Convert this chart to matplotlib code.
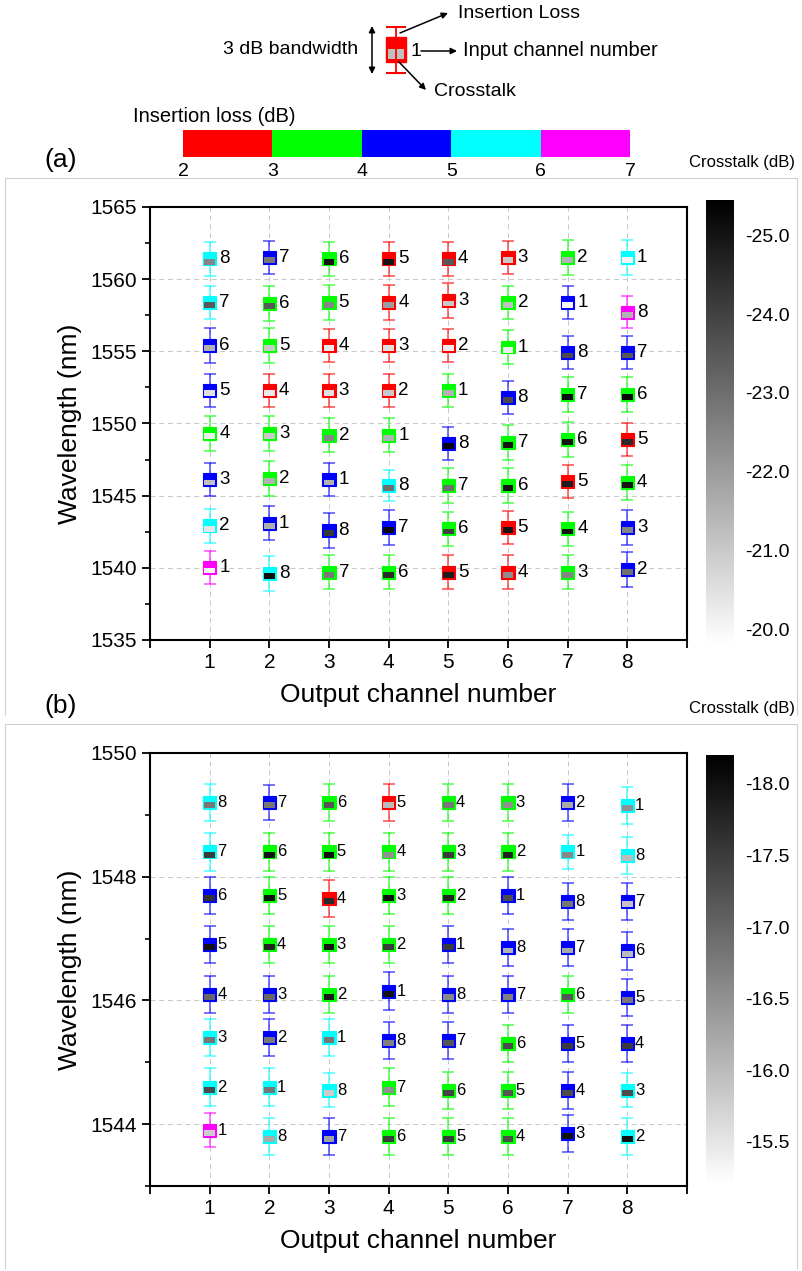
import matplotlib.pyplot as plt
from matplotlib import colors as mcolors
from matplotlib.cm import ScalarMappable
from matplotlib.lines import Line2D
from matplotlib.ticker import MultipleLocator, FormatStrFormatter

plt.rcParams['font.family'] = ['Liberation Sans', 'DejaVu Sans']
plt.rcParams['axes.unicode_minus'] = False

# ---- data: one list per output channel (column), rows listed top -> bottom ----
out_channels = [1, 2, 3, 4, 5, 6, 7, 8]

# panel (a)
in_a = [[8, 7, 6, 5, 4, 3, 2, 1], [7, 6, 5, 4, 3, 2, 1, 8], [6, 5, 4, 3, 2, 1, 8, 7],
        [5, 4, 3, 2, 1, 8, 7, 6], [4, 3, 2, 1, 8, 7, 6, 5], [3, 2, 1, 8, 7, 6, 5, 4],
        [2, 1, 8, 7, 6, 5, 4, 3], [1, 8, 7, 6, 5, 4, 3, 2]]
wl_a = [[1561.4, 1558.4, 1555.4, 1552.3, 1549.3, 1546.1, 1542.9, 1540.0],
        [1561.5, 1558.3, 1555.4, 1552.3, 1549.3, 1546.2, 1543.1, 1539.6],
        [1561.4, 1558.4, 1555.4, 1552.3, 1549.2, 1546.1, 1542.6, 1539.7],
        [1561.4, 1558.4, 1555.4, 1552.3, 1549.2, 1545.7, 1542.8, 1539.7],
        [1561.4, 1558.5, 1555.4, 1552.3, 1548.6, 1545.7, 1542.7, 1539.7],
        [1561.5, 1558.4, 1555.3, 1551.8, 1548.7, 1545.7, 1542.8, 1539.7],
        [1561.5, 1558.4, 1554.9, 1552.0, 1548.9, 1546.0, 1542.7, 1539.7],
        [1561.5, 1557.7, 1554.9, 1552.0, 1548.9, 1545.9, 1542.8, 1539.9]]
il_a = [[5.5, 5.5, 4.5, 4.5, 3.5, 4.5, 5.5, 6.5],
        [4.5, 3.5, 3.5, 2.5, 3.5, 3.5, 4.5, 5.5],
        [3.5, 3.5, 2.5, 2.5, 3.5, 4.5, 4.5, 3.5],
        [2.5, 2.5, 2.5, 2.5, 3.5, 5.5, 4.5, 3.5],
        [2.5, 2.5, 2.5, 3.5, 4.5, 3.5, 3.5, 2.5],
        [2.5, 3.5, 3.5, 4.5, 3.5, 3.5, 2.5, 2.5],
        [3.5, 4.5, 4.5, 3.5, 3.5, 2.5, 3.5, 3.5],
        [5.5, 6.5, 4.5, 3.5, 2.5, 3.5, 4.5, 4.5]]
xt_a = [[-22.5, -23.5, -21.5, -20.5, -20.2, -21.2, -20.4, -20.0],
        [-22.8, -23.5, -21.0, -20.3, -21.0, -21.5, -21.6, -25.2],
        [-25.0, -22.5, -20.3, -20.5, -22.5, -21.5, -24.2, -22.8],
        [-25.0, -22.0, -20.5, -21.0, -21.5, -23.0, -25.2, -24.5],
        [-23.5, -21.0, -20.2, -21.5, -25.3, -23.0, -24.0, -24.8],
        [-21.0, -21.2, -20.2, -23.8, -25.0, -25.0, -25.0, -22.3],
        [-21.5, -20.0, -23.8, -25.2, -25.0, -24.8, -25.0, -22.5],
        [-20.1, -21.5, -23.5, -25.3, -24.5, -25.0, -22.5, -23.0]]
bw_a = [[2.4, 2.3, 2.4, 2.3, 2.4, 2.3, 2.4, 2.3],
        [2.3, 2.4, 2.4, 2.3, 2.4, 2.4, 2.3, 2.4],
        [2.4, 2.4, 2.3, 2.3, 2.4, 2.3, 2.4, 2.4],
        [2.4, 2.4, 2.3, 2.3, 2.4, 2.2, 2.4, 2.4],
        [2.4, 2.4, 2.3, 2.3, 2.3, 2.4, 2.4, 2.4],
        [2.3, 2.3, 2.4, 2.3, 2.4, 2.4, 2.3, 2.4],
        [2.4, 2.3, 2.3, 2.4, 2.4, 2.3, 2.4, 2.4],
        [2.4, 2.2, 2.3, 2.4, 2.3, 2.4, 2.4, 2.4]]

# panel (b)
in_b = in_a
wl_b = [[1549.2, 1548.4, 1547.7, 1546.9, 1546.1, 1545.4, 1544.6, 1543.9],
        [1549.2, 1548.4, 1547.7, 1546.9, 1546.1, 1545.4, 1544.6, 1543.8],
        [1549.2, 1548.4, 1547.65, 1546.9, 1546.1, 1545.4, 1544.55, 1543.8],
        [1549.2, 1548.4, 1547.7, 1546.9, 1546.15, 1545.35, 1544.6, 1543.8],
        [1549.2, 1548.4, 1547.7, 1546.9, 1546.1, 1545.35, 1544.55, 1543.8],
        [1549.2, 1548.4, 1547.7, 1546.85, 1546.1, 1545.3, 1544.55, 1543.8],
        [1549.2, 1548.4, 1547.6, 1546.85, 1546.1, 1545.3, 1544.55, 1543.85],
        [1549.15, 1548.35, 1547.6, 1546.8, 1546.05, 1545.3, 1544.55, 1543.8]]
il_b = [[5.5, 5.5, 4.5, 4.5, 4.5, 5.5, 5.5, 6.5],
        [4.5, 3.5, 3.5, 3.5, 4.5, 4.5, 5.5, 5.5],
        [3.5, 3.5, 2.5, 3.5, 3.5, 5.5, 5.5, 4.5],
        [2.5, 3.5, 3.5, 3.5, 4.5, 4.5, 3.5, 3.5],
        [3.5, 3.5, 3.5, 4.5, 4.5, 4.5, 3.5, 3.5],
        [3.5, 3.5, 4.5, 4.5, 4.5, 3.5, 3.5, 3.5],
        [4.5, 5.5, 4.5, 4.5, 3.5, 4.5, 4.5, 4.5],
        [5.5, 5.5, 4.5, 4.5, 4.5, 4.5, 5.5, 5.5]]
xt_b = [[-16.8, -17.5, -17.6, -18.0, -17.0, -16.8, -17.3, -15.8],
        [-16.8, -18.0, -18.0, -17.8, -17.0, -16.8, -16.8, -16.2],
        [-17.2, -18.0, -17.7, -18.0, -17.9, -16.8, -15.8, -16.3],
        [-16.0, -16.5, -18.0, -17.5, -18.0, -16.7, -16.5, -17.5],
        [-16.8, -17.5, -17.8, -17.5, -16.6, -17.2, -17.4, -17.5],
        [-16.5, -17.8, -17.3, -16.1, -16.7, -17.3, -17.2, -17.3],
        [-16.2, -16.6, -16.8, -16.2, -17.2, -17.5, -17.3, -18.0],
        [-16.5, -16.0, -15.9, -16.0, -16.8, -17.5, -17.3, -18.0]]
bw_b = [[0.6, 0.6, 0.6, 0.6, 0.6, 0.6, 0.6, 0.55],
        [0.57, 0.6, 0.6, 0.6, 0.6, 0.6, 0.6, 0.6],
        [0.6, 0.6, 0.6, 0.6, 0.6, 0.6, 0.55, 0.6],
        [0.6, 0.6, 0.6, 0.6, 0.62, 0.6, 0.6, 0.6],
        [0.6, 0.6, 0.6, 0.6, 0.6, 0.6, 0.6, 0.6],
        [0.6, 0.6, 0.6, 0.6, 0.6, 0.6, 0.6, 0.6],
        [0.6, 0.55, 0.6, 0.6, 0.6, 0.6, 0.6, 0.6],
        [0.6, 0.6, 0.6, 0.6, 0.6, 0.6, 0.55, 0.6]]

il_bounds = [2, 3, 4, 5, 6, 7]
il_colors = ['#ff0000', '#00ff00', '#0000ff', '#00ffff', '#ff00ff']

W, H = 802, 1271
fig = plt.figure(figsize=(W / 100, H / 100), dpi=100)


def rect(x0, y0, x1, y1):
    # pixel box (top-left origin) -> figure fraction
    return [x0 / W, 1 - y1 / H, (x1 - x0) / W, (y1 - y0) / H]


il_cmap = mcolors.ListedColormap(il_colors)
il_norm = mcolors.BoundaryNorm(il_bounds, il_cmap.N)
gray = plt.get_cmap('gray')


def draw_panel(ax, cax, ins, wl, il, xt, bw, ylim, xt_lim, cb_ticks, ymajor, yminor,
               num_size, num_dx):
    norm = mcolors.Normalize(vmin=xt_lim[0], vmax=xt_lim[1])
    bh = (ylim[1] - ylim[0]) * 0.03
    bwid = 0.22
    for j, x in enumerate(out_channels):
        ilc = il_cmap(il_norm(il[j]))
        xtc = gray(norm(xt[j]))
        xs = [x] * len(wl[j])
        for k in range(len(wl[j])):
            ax.errorbar(x, wl[j][k], yerr=bw[j][k] / 2, fmt='none', ecolor=ilc[k],
                        elinewidth=1.1, capsize=4.5, capthick=1.1, alpha=0.7, zorder=2)
        bottoms = [w - bh / 2 for w in wl[j]]
        ax.bar(xs, bh, bottom=bottoms, width=bwid, color=ilc, edgecolor=ilc,
               linewidth=0.8, zorder=3)
        ax.bar(xs, bh * 0.45, bottom=[b + bh * 0.07 for b in bottoms], width=bwid * 0.82,
               color=xtc, linewidth=0, zorder=4)
        for k, lab in enumerate(ins[j]):
            ax.text(x + num_dx, wl[j][k], str(lab), ha='left', va='center',
                    fontsize=num_size, zorder=5)

    ax.set_xlim(0, 9)
    ax.set_xticks(range(10))
    ax.set_xticklabels([''] + [str(c) for c in out_channels] + [''])
    ax.set_ylim(*ylim)
    ax.yaxis.set_major_locator(MultipleLocator(ymajor))
    ax.yaxis.set_minor_locator(MultipleLocator(yminor))
    ax.grid(True, which='major', ls=(0, (5, 4)), color='#c8c8c8', lw=0.7, zorder=0)
    ax.set_axisbelow(True)
    ax.tick_params(which='major', direction='out', length=6, width=1.3, labelsize=15)
    ax.tick_params(which='minor', direction='out', length=3.5, width=1.2)
    ax.tick_params(axis='x', which='minor', bottom=False)
    for s in ax.spines.values():
        s.set_linewidth(1.5)
    ax.set_xlabel('Output channel number', fontsize=19, labelpad=8)
    ax.set_ylabel('Wavelength (nm)', fontsize=19, labelpad=6)

    sm = ScalarMappable(norm=norm, cmap=gray)
    cb = fig.colorbar(sm, cax=cax, ticks=cb_ticks)
    cax.invert_yaxis()
    cb.outline.set_visible(False)
    cax.yaxis.set_major_formatter(FormatStrFormatter('%.1f'))
    cax.tick_params(length=0, labelsize=14, pad=8)


# panel (a)
ax_a = fig.add_axes(rect(150, 207, 687, 640))
cax_a = fig.add_axes(rect(706, 200, 734, 645))
draw_panel(ax_a, cax_a, in_a, wl_a, il_a, xt_a, bw_a, (1535, 1565), (-25.45, -19.8),
           [-25, -24, -23, -22, -21, -20], 5, 2.5, 13.5, 0.16)

# panel (b)
ax_b = fig.add_axes(rect(150, 753, 687, 1186))
cax_b = fig.add_axes(rect(706, 755, 734, 1185))
draw_panel(ax_b, cax_b, in_b, wl_b, il_b, xt_b, bw_b, (1543, 1550), (-18.2, -15.2),
           [-18, -17.5, -17, -16.5, -16, -15.5], 2, 1, 12, 0.13)

fig.text(44 / W, 1 - 160 / H, '(a)', fontsize=19, va='center')
fig.text(44 / W, 1 - 706 / H, '(b)', fontsize=19, va='center')
fig.text(742 / W, 1 - 162 / H, 'Crosstalk (dB)', fontsize=12, ha='center', va='center')
fig.text(742 / W, 1 - 708 / H, 'Crosstalk (dB)', fontsize=12, ha='center', va='center')

# insertion-loss colour scale
cax_il = fig.add_axes(rect(183, 130, 630, 157))
cb_il = fig.colorbar(ScalarMappable(norm=il_norm, cmap=il_cmap), cax=cax_il,
                     orientation='horizontal', ticks=il_bounds)
cb_il.outline.set_visible(False)
cax_il.tick_params(length=0, labelsize=14, pad=4)
fig.text(133 / W, 1 - 117 / H, 'Insertion loss (dB)', fontsize=14.5, va='center')

# schematic legend, drawn on an overlay in pixel units
ov = fig.add_axes([0, 0, 1, 1], zorder=10)
ov.set_xlim(0, W)
ov.set_ylim(H, 0)
ov.axis('off')
ov.patch.set_alpha(0)
ov.errorbar(396, 50, yerr=23, fmt='none', ecolor='#ff0000', elinewidth=1.3,
            capsize=7, capthick=1.5)
ov.bar(396, 25, bottom=37, width=20, color='#ff0000', edgecolor='#ff0000')
ov.bar(396, 10, bottom=49, width=16, color='#c0c0c0', linewidth=0)
ov.annotate('', xy=(372, 26), xytext=(372, 74),
            arrowprops=dict(arrowstyle='<|-|>', color='black', lw=1.1,
                            mutation_scale=9, shrinkA=0, shrinkB=0))
ov.text(358, 50, '3 dB bandwidth', fontsize=14, ha='right', va='center')
ov.text(410, 51, '1', fontsize=14, ha='left', va='center')
ov.annotate('', xy=(457, 51), xytext=(421, 51),
            arrowprops=dict(arrowstyle='-|>', color='black', lw=1.1,
                            mutation_scale=9, shrinkA=0, shrinkB=0))
ov.text(463, 51, 'Input channel number', fontsize=14.5, ha='left', va='center')
ov.annotate('', xy=(448, 13), xytext=(400, 33),
            arrowprops=dict(arrowstyle='-|>', color='black', lw=1.1,
                            mutation_scale=9, shrinkA=0, shrinkB=0))
ov.text(458, 14, 'Insertion Loss', fontsize=14, ha='left', va='center')
ov.annotate('', xy=(426, 90), xytext=(399, 62),
            arrowprops=dict(arrowstyle='-|>', color='black', lw=1.1,
                            mutation_scale=9, shrinkA=0, shrinkB=0))
ov.text(434, 92, 'Crosstalk', fontsize=14, ha='left', va='center')

# thin panel frames (top edge and sides only)
for top, bot in [(178, 715), (724, 1268)]:
    ov.add_line(Line2D([5, 5, 797, 797], [bot, top, top, bot], color='#d0d0d0', lw=0.8))

fig.savefig('out.png', dpi=100)
